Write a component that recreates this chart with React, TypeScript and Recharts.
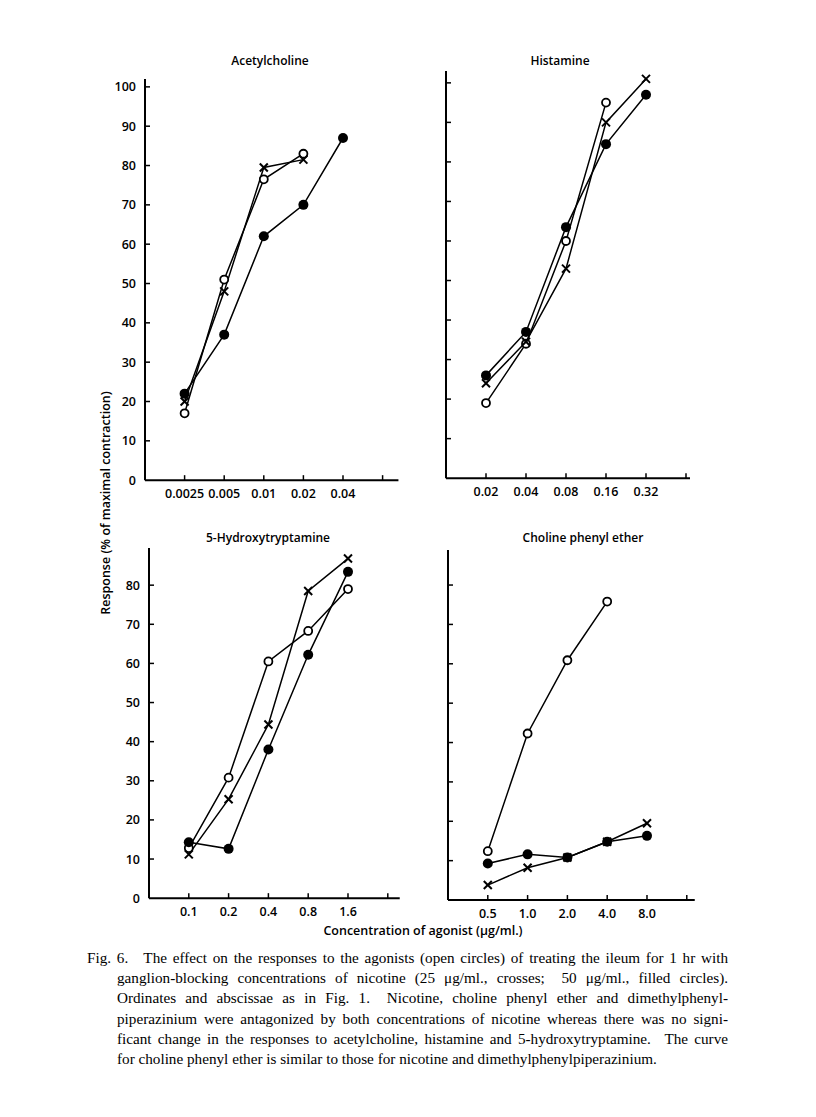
import React from 'react';
import { LineChart, Line, XAxis, YAxis } from 'recharts';

// ---------- data ----------
const acCats = ['0.0025', '0.005', '0.01', '0.02', '0.04'];
const acOpen = [17, 51, 76.5, 83, null];
const acCross = [20, 48, 79.5, 81.5, null];
const acFilled = [22, 37, 62, 70, 87];

const hiCats = ['0.02', '0.04', '0.08', '0.16', '0.32'];
const hiOpen = [19, 34, 60, 95, null];
const hiCross = [24, 34.5, 53, 90, 101];
const hiFilled = [26, 37, 63.5, 84.5, 97];

const htCats = ['0.1', '0.2', '0.4', '0.8', '1.6'];
const htOpen = [12.8, 30.8, 60.5, 68.3, 79];
const htCross = [11.2, 25.3, 44.4, 78.5, 86.8];
const htFilled = [14.3, 12.6, 38, 62.2, 83.4];

const cpCats = ['0.5', '1.0', '2.0', '4.0', '8.0'];
const cpOpen = [12.4, 42.3, 60.9, 75.8, null];
const cpCross = [3.8, 8.2, 10.8, 14.8, 19.5];
const cpFilled = [9.3, 11.6, 10.8, 14.8, 16.3];

const ticks0to100 = [0, 10, 20, 30, 40, 50, 60, 70, 80, 90, 100];
const ticks10to100 = [10, 20, 30, 40, 50, 60, 70, 80, 90, 100];
const ticks0to80 = [0, 10, 20, 30, 40, 50, 60, 70, 80];
const ticks10to80 = [10, 20, 30, 40, 50, 60, 70, 80];
const xTickPositions = [1, 2, 3, 4, 5, 6];

const captionLines = [
  'Fig. 6.\u2003The effect on the responses to the agonists (open circles) of treating the ileum for 1 hr with',
  'ganglion-blocking concentrations of nicotine (25 \u03bcg/ml., crosses;\u2002 50 \u03bcg/ml., filled circles).',
  'Ordinates and abscissae as in Fig. 1.\u2002 Nicotine, choline phenyl ether and dimethylphenyl-',
  'piperazinium were antagonized by both concentrations of nicotine whereas there was no signi-',
  'ficant change in the responses to acetylcholine, histamine and 5-hydroxytryptamine.\u2002 The curve',
  'for choline phenyl ether is similar to those for nicotine and dimethylphenylpiperazinium.',
];

const FONT = '"Open Sans", "Lato", sans-serif';

// ---------- marks ----------
const OpenDot = (p: any) => {
  if (p.value == null || p.cy == null) return <g key={p.key} />;
  return <circle key={p.key} cx={p.cx} cy={p.cy} r={4} fill="#fff" stroke="#000" strokeWidth={1.8} />;
};
const FilledDot = (p: any) => {
  if (p.value == null || p.cy == null) return <g key={p.key} />;
  return <circle key={p.key} cx={p.cx} cy={p.cy} r={5} fill="#000" stroke="none" />;
};
const CrossDot = (p: any) => {
  if (p.value == null || p.cy == null) return <g key={p.key} />;
  const s = 4;
  return (
    <g key={p.key}>
      <line x1={p.cx - s} y1={p.cy - s} x2={p.cx + s} y2={p.cy + s} stroke="#000" strokeWidth={2} />
      <line x1={p.cx - s} y1={p.cy + s} x2={p.cx + s} y2={p.cy - s} stroke="#000" strokeWidth={2} />
    </g>
  );
};

const makeXTick = (cats: string[]) => (p: any) => {
  const idx = p.payload.value - 1;
  const label = cats[idx] ?? '';
  return (
    <g>
      <line x1={p.x} y1={p.y} x2={p.x} y2={p.y - 5} stroke="#000" strokeWidth={1.5} />
      {label && (
        <text x={p.x} y={p.y + 18} textAnchor="middle" fontSize={12.5} fontWeight={600} fontFamily={FONT} fill="#000">
          {label}
        </text>
      )}
    </g>
  );
};

const makeYTick = (showLabels: boolean) => (p: any) => {
  const v = p.payload.value;
  return (
    <g>
      {v !== 0 && <line x1={p.x} y1={p.y} x2={p.x + 5} y2={p.y} stroke="#000" strokeWidth={1.5} />}
      {showLabels && (
        <text x={p.x - 9} y={p.y + 4.5} textAnchor="end" fontSize={12.5} fontWeight={600} fontFamily={FONT} fill="#000">
          {v}
        </text>
      )}
    </g>
  );
};

type PanelProps = {
  plotLeft: number;
  zeroY: number;
  unitX: number;
  unitY: number;
  xMax: number;
  yMax: number;
  yTicks: number[];
  showYLabels: boolean;
  cats: string[];
  open: (number | null)[];
  cross: (number | null)[];
  filled: (number | null)[];
};

const Panel = (props: PanelProps) => {
  const { plotLeft, zeroY, unitX, unitY, xMax, yMax, yTicks, showYLabels, cats, open, cross, filled } = props;
  const plotW = xMax * unitX;
  const plotH = yMax * unitY;
  const plotTop = zeroY - plotH;
  const data = cats.map((c, i) => ({ x: i + 1, open: open[i], cross: cross[i], filled: filled[i] }));
  return (
    <div style={{ position: 'absolute', left: plotLeft - 60, top: plotTop - 20 }}>
      <LineChart width={plotW + 70} height={plotH + 50} data={data} margin={{ top: 20, right: 10, left: 10, bottom: 0 }}>
        <XAxis
          dataKey="x"
          type="number"
          domain={[0, xMax]}
          ticks={xTickPositions}
          height={30}
          tickSize={0}
          tickMargin={0}
          tickLine={false}
          axisLine={{ stroke: '#000', strokeWidth: 2 }}
          tick={makeXTick(cats)}
          interval={0}
          allowDataOverflow
        />
        <YAxis
          type="number"
          domain={[0, yMax]}
          ticks={yTicks}
          width={50}
          tickSize={0}
          tickMargin={0}
          tickLine={false}
          axisLine={{ stroke: '#000', strokeWidth: 2 }}
          tick={makeYTick(showYLabels)}
          interval={0}
          allowDataOverflow
        />
        <Line dataKey="open" stroke="#000" strokeWidth={1.5} dot={OpenDot} isAnimationActive={false} connectNulls={false} />
        <Line dataKey="cross" stroke="#000" strokeWidth={1.5} dot={CrossDot} isAnimationActive={false} connectNulls={false} />
        <Line dataKey="filled" stroke="#000" strokeWidth={1.5} dot={FilledDot} isAnimationActive={false} connectNulls={false} />
      </LineChart>
    </div>
  );
};

const titleStyle = { fontSize: 12, fontWeight: 600, fontFamily: FONT, fill: '#000' } as const;

export default function App() {
  return (
    <div style={{ position: 'absolute', left: 0, top: 0, width: 816, height: 1117, background: '#fff', overflow: 'hidden' }}>
      <Panel plotLeft={145} zeroY={480} unitX={39.6} unitY={3.933} xMax={6.4} yMax={102} yTicks={ticks0to100} showYLabels
        cats={acCats} open={acOpen} cross={acCross} filled={acFilled} />
      <Panel plotLeft={446} zeroY={478} unitX={40} unitY={3.953} xMax={6.1} yMax={103} yTicks={ticks10to100} showYLabels={false}
        cats={hiCats} open={hiOpen} cross={hiCross} filled={hiFilled} />
      <Panel plotLeft={149} zeroY={898} unitX={39.8} unitY={3.9125} xMax={6.3} yMax={89.5} yTicks={ticks0to80} showYLabels
        cats={htCats} open={htOpen} cross={htCross} filled={htFilled} />
      <Panel plotLeft={448} zeroY={900} unitX={39.8} unitY={3.9375} xMax={6.2} yMax={88.9} yTicks={ticks10to80} showYLabels={false}
        cats={cpCats} open={cpOpen} cross={cpCross} filled={cpFilled} />

      <svg width={816} height={1117} style={{ position: 'absolute', left: 0, top: 0, pointerEvents: 'none' }}>
        <text x={270} y={65} textAnchor="middle" {...titleStyle}>Acetylcholine</text>
        <text x={560} y={65} textAnchor="middle" {...titleStyle}>Histamine</text>
        <text x={268} y={542} textAnchor="middle" {...titleStyle}>5-Hydroxytryptamine</text>
        <text x={583} y={542} textAnchor="middle" {...titleStyle}>Choline phenyl ether</text>
        <text x={0} y={0} textAnchor="middle" transform="translate(110,503) rotate(-90)" fontSize={12.5} fontWeight={600} fontFamily={FONT} fill="#000">
          Response (% of maximal contraction)
        </text>
        <text x={423} y={935} textAnchor="middle" fontSize={12.5} fontWeight={600} fontFamily={FONT} fill="#000">
          Concentration of agonist ({'\u03bc'}g/ml.)
        </text>
      </svg>

      <div style={{ position: 'absolute', left: 87, top: 948, width: 641, fontFamily: '"Liberation Serif", "Times New Roman", serif', fontSize: 15.2, lineHeight: '20.2px', color: '#000' }}>
        {captionLines.map((l, i) => (
          <div
            key={i}
            style={{
              whiteSpace: 'nowrap',
              paddingLeft: i === 0 ? 0 : 30,
              textAlign: 'justify',
              textAlignLast: i === captionLines.length - 1 ? 'left' : 'justify',
            }}
          >
            {l}
          </div>
        ))}
      </div>
    </div>
  );
}
